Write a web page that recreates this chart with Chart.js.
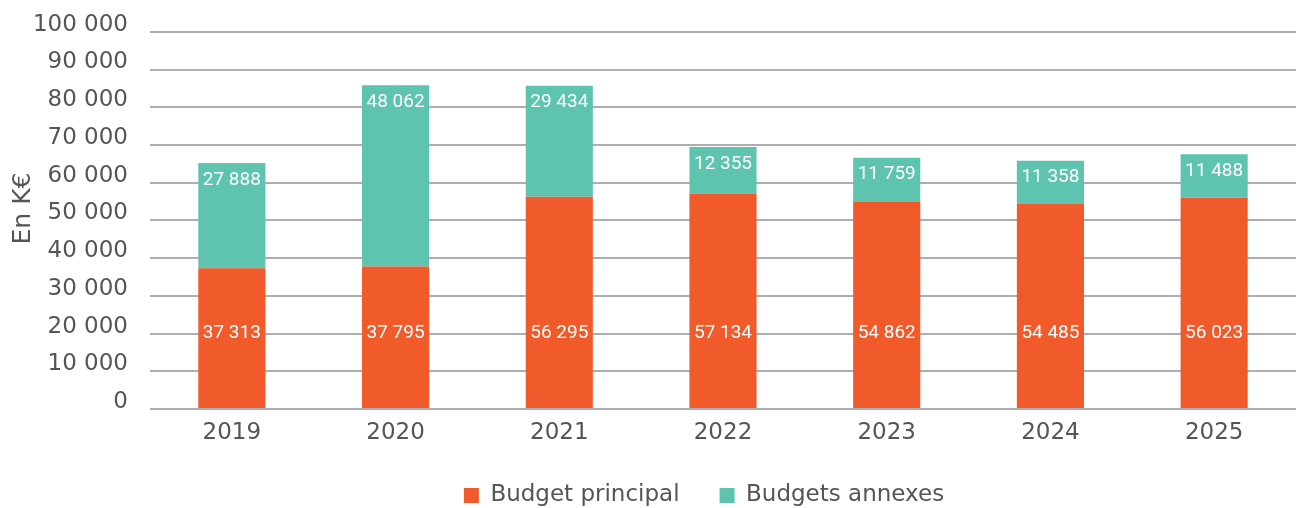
<!DOCTYPE html>
<html>
<head>
<meta charset="utf-8">
<script src="https://cdn.jsdelivr.net/npm/chart.js@4"></script>
<style>
  html, body { margin: 0; padding: 0; background: #fff; overflow: hidden; }
  #wrap { width: 1296px; height: 521px; margin-top: -4px; }
</style>
</head>
<body>
<div id="wrap"><canvas id="budgets"></canvas></div>
<script>
var years = ['2019', '2020', '2021', '2022', '2023', '2024', '2025'];
var budgetPrincipal = [37313, 37795, 56295, 57134, 54862, 54485, 56023];
var budgetsAnnexes = [27888, 48062, 29434, 12355, 11759, 11358, 11488];
var yTicks = [0, 10000, 20000, 30000, 40000, 50000, 60000, 70000, 80000, 90000, 100000];

var orange = '#F15A2B';
var teal = '#5EC4B0';
var textColor = '#555555';
var gridColor = '#AEAEB2';
var baseFont = { family: 'DejaVu Sans', size: 23 };

function fmt(v) {
    return String(v).replace(/\B(?=(\d{3})+(?!\d))/g, ' ');
}

// white value labels inside the bars
var valueLabels = {
    id: 'valueLabels',
    afterDatasetsDraw: function(chart) {
        var ctx = chart.ctx;
        var y = chart.scales.y;
        ctx.save();
        ctx.fillStyle = '#ffffff';
        ctx.font = '19px Roboto';
        ctx.textAlign = 'center';
        ctx.textBaseline = 'middle';
        chart.getDatasetMeta(0).data.forEach(function(bar, i) {
            ctx.fillText(fmt(budgetPrincipal[i]), bar.x, y.getPixelForValue(20000));
        });
        chart.getDatasetMeta(1).data.forEach(function(bar, i) {
            ctx.fillText(fmt(budgetsAnnexes[i]), bar.x, bar.y + 17);
        });
        ctx.restore();
    }
};

// legend sits a bit right of the canvas centre in the original
var legendShift = {
    id: 'legendShift',
    afterLayout: function(chart) {
        chart.legend.left = 112;
    }
};

var ctx = document.getElementById('budgets').getContext('2d');
var chart = new Chart(ctx, {
    type: 'bar',
    data: {
        labels: years,
        datasets: [{
            label: 'Budget principal',
            data: budgetPrincipal,
            backgroundColor: orange,
            borderWidth: 0,
            barPercentage: 0.41,
            categoryPercentage: 1
        },
        {
            label: 'Budgets annexes',
            data: budgetsAnnexes,
            backgroundColor: teal,
            borderWidth: 0,
            barPercentage: 0.41,
            categoryPercentage: 1
        }]
    },
    options: {
        responsive: true,
        maintainAspectRatio: false,
        animation: false,
        layout: { padding: { top: 27, right: 0, left: 0, bottom: 0 } },
        plugins: {
            tooltip: { enabled: false },
            legend: {
                position: 'bottom',
                labels: {
                    color: textColor,
                    font: baseFont,
                    boxWidth: 15,
                    boxHeight: 15,
                    padding: 40
                }
            }
        },
        scales: {
            x: {
                stacked: true,
                grid: { display: false, drawTicks: false },
                border: { display: false },
                afterFit: function(scale) { scale.height = 35; },
                ticks: {
                    color: textColor,
                    font: baseFont,
                    padding: 10
                }
            },
            y: {
                stacked: true,
                min: 0,
                max: 100000,
                afterBuildTicks: function(scale) {
                    scale.ticks = yTicks.map(function(v) { return { value: v }; });
                },
                afterFit: function(scale) { scale.width = 150; },
                grid: { color: gridColor, lineWidth: 2, drawTicks: false },
                border: { display: false },
                title: {
                    display: true,
                    text: '\u00a0\u00a0\u00a0En K€',
                    color: textColor,
                    font: { family: 'DejaVu Sans', size: 25 },
                    padding: { top: 8, bottom: 0 }
                },
                ticks: {
                    color: textColor,
                    font: baseFont,
                    padding: 22,
                    labelOffset: -7,
                    callback: function(v) { return fmt(v); }
                }
            }
        }
    },
    plugins: [valueLabels, legendShift]
});
</script>
</body>
</html>
